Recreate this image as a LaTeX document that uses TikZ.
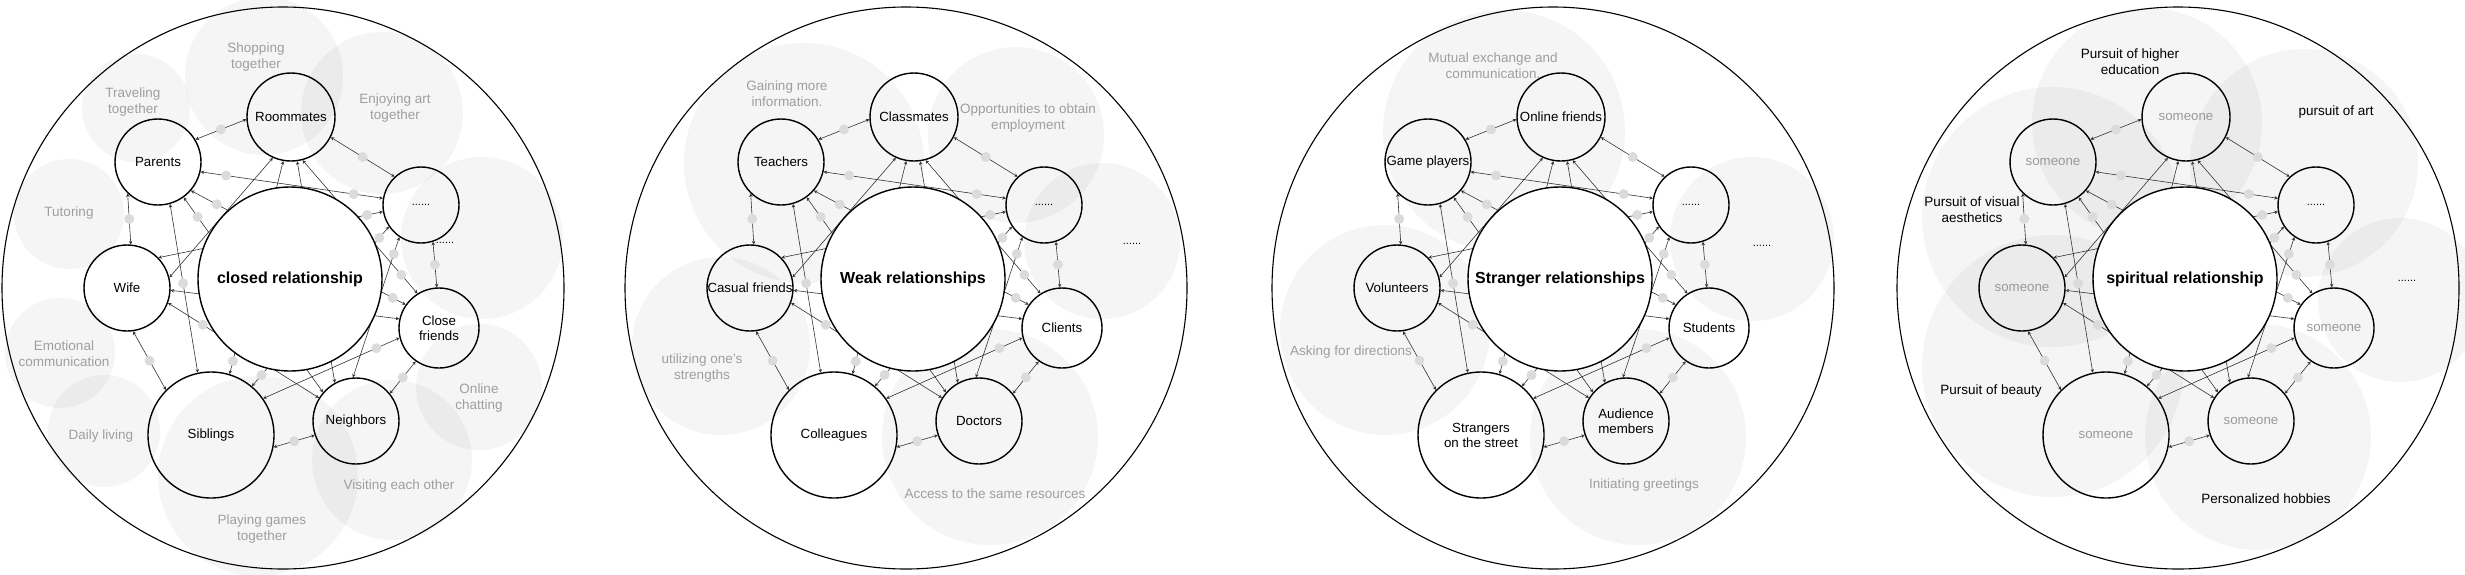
\documentclass[tikz,border=0pt]{standalone}
\usepackage{fontspec}
\setmainfont{Liberation Sans}
\usetikzlibrary{arrows.meta}

\begin{document}
\begin{tikzpicture}[x=1pt,y=-1pt,>={Stealth[length=3.5pt,width=3.5pt]},line join=round,line cap=round,
	nen/.style={fill=black,fill opacity=.04},
	vongnho/.style={circle,draw,line width=1.4pt,inner sep=0pt,align=center,font=\fontsize{13.3}{15}\selectfont},
	vonglon/.style={circle,draw,fill=white,line width=1.4pt,inner sep=0pt,minimum size=184pt,font=\bfseries\fontsize{16}{19}\selectfont},
	noi/.style={<->,line width=.6pt,draw=black!80},
	cham/.style={circle,fill=black!14,inner sep=0pt,minimum size=10pt},
	nhan/.style={text=black!38,align=center,font=\fontsize{13.5}{16}\selectfont},
	bacham/.style={font=\fontsize{11}{13}\selectfont}]
	\useasboundingbox (0,0) rectangle (2465,574);
	
	% Các vùng nền xám
	\foreach \x/\y/\r in {136/108/54,264/76/79,382/113/81,69/214/55,482/238/81,60/353/55,104/431/56,479/387/63,258/476/100,392/460/80,
		804/163/120,1016/135/88,1102/241/78,721/346/89,990/437/108,
		1504/131/121,1752/239/82,1385/330/105,1638/437/108,
		2147/123/115,2304/163/114,2052/217/130,2400/300/82,2053/366/131,2258/437/113}
	\fill[nen] (\x,\y) circle (\r pt);
	
	% Vòng tròn ngoài
	\foreach \x in {283,906,1553,2178}
	\draw[line width=1.1pt] (\x,288) circle (281pt);
	
	% Nhãn hình 1
	\node[nhan] (a1) at (256,57) {Shopping\\together};
	\node[nhan] (a2) at (133,102) {Traveling\\together};
	\node[nhan] (a3) at (395,108) {Enjoying art\\together};
	\node[nhan] (a4) at (69,213) {Tutoring};
	\node[nhan] (a5) at (64,354) {Emotional\\communication};
	\node[nhan] (a6) at (101,436) {Daily living};
	\node[nhan] (a7) at (479,398) {Online\\chatting};
	\node[nhan] (a8) at (399,486) {Visiting each other};
	\node[nhan] (a9) at (262,529) {Playing games\\together};
	\node[bacham] (a10) at (445,243) {......};
	
	% Nhãn hình 2
	\node[nhan] (b1) at (787,94) {Gaining more\\information.};
	\node[nhan] (b2) at (1028,118) {Opportunities to obtain\\employment};
	\node[bacham] (b3) at (1132,244) {......};
	\node[nhan] (b4) at (702,368) {utilizing one's\\strengths};
	\node[nhan] (b5) at (995,494) {Access to the same resources};
	
	% Nhãn hình 3
	\node[nhan] (c1) at (1493,66) {Mutual exchange and\\communication.};
	\node[bacham] (c2) at (1762,246) {......};
	\node[nhan] (c3) at (1351,352) {Asking for directions};
	\node[nhan] (c4) at (1644,485) {Initiating greetings};
	
	% Nhãn hình 4
	\node[nhan,text=black] (d1) at (2130,62) {Pursuit of higher\\education};
	\node[nhan,text=black] (d2) at (2336,112) {pursuit of art};
	\node[nhan,text=black] (d3) at (1972,210) {Pursuit of visual\\aesthetics};
	\node[bacham] (d4) at (2407,281) {......};
	\node[nhan,text=black] (d5) at (1991,391) {Pursuit of beauty};
	\node[nhan,text=black] (d6) at (2266,499) {Personalized hobbies};
	
	% Mạng quan hệ trong từng hình
	\foreach \p/\dx/\cen/\nT/\nTL/\nL/\nR/\nBR/\nBL/\mau in {
		a/0/{closed relationship}/Roommates/Parents/Wife/{Close\\friends}/Neighbors/Siblings/black,
		b/623/{Weak relationships}/Classmates/Teachers/{Casual friends}/Clients/Doctors/Colleagues/black,
		c/1270/{Stranger relationships}/{Online friends}/{Game players}/Volunteers/Students/{Audience\\members}/{Strangers\\on the street}/black,
		d/1895/{spiritual relationship}/someone/someone/someone/someone/someone/someone/black!40}
	{
		\begin{scope}[xshift=\dx pt]
			\node[vongnho,minimum size=88pt,text=\mau] (\p T) at (291,117) {\nT};
			\node[vongnho,minimum size=86pt,text=\mau] (\p TL) at (158,162) {\nTL};
			\node[vongnho,minimum size=76pt,font=\fontsize{11}{13}\selectfont] (\p TR) at (421,205) {......};
			\node[vongnho,minimum size=86pt,text=\mau] (\p L) at (127,288) {\nL};
			\node[vongnho,minimum size=80pt,text=\mau] (\p R) at (439,328) {\nR};
			\node[vongnho,minimum size=86pt,text=\mau] (\p BR) at (356,421) {\nBR};
			\node[vongnho,minimum size=126pt,text=\mau] (\p BL) at (211,435) {\nBL};
			
			% Các đường nối
			\foreach \u/\i/\v/\j in {TL/31/T/183,T/-27/TR/133,TL/-13/TR/170,TL/226/L/85,TR/-72/R/93,L/-82/BL/135,R/235/BR/39,
				BL/-11/BR/199,T/-75/R/122,TR/236/BR/94,R/194/BL/35,L/-20/BR/148,TL/-74/BL/102,L/14/T/246,
				TL/-41/R/145,T/-82/BR/119,TR/214/BL/50,L/-3/R/167,TL/-54/BR/139,T/260/BL/73,L/44/TR/190}
			\draw[noi] (\p\u.\i) -- (\p\v.\j);
			
			\node[vonglon] (\p C) at (290,279) {\cen};
			
			% Chấm xám trên đường nối
			\foreach \u/\i/\v/\j/\t [count=\k] in {TL/31/T/183/.5,T/-27/TR/133/.5,TL/-13/TR/170/.14,TL/-13/TR/170/.84,
				TL/226/L/85/.5,TR/-72/R/93/.5,L/-82/BL/135/.5,R/235/BR/39/.5,BL/-11/BR/199/.5,T/-75/R/122/.86,
				TR/236/BR/94/.12,R/194/BL/35/.17,L/-20/BR/148/.23,TL/-74/BL/102/.47,TL/-41/R/145/.12,TL/-41/R/145/.94,
				TR/214/BL/50/.07,TR/214/BL/50/.93,TL/-54/BR/139/.1,T/260/BL/73/.94,L/44/TR/190/.93}
			\path (\p\u.\i) -- node[cham,pos=\t] (\p d\k) {} (\p\v.\j);
		\end{scope}
	}
\end{tikzpicture}
\end{document}
